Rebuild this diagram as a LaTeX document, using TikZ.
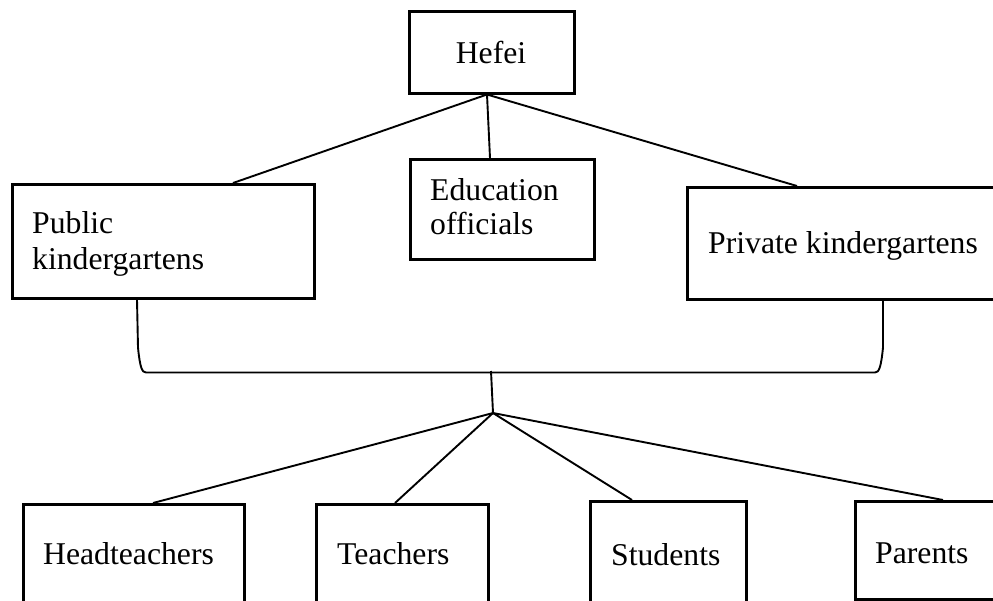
\documentclass[tikz,border=0pt]{standalone}
\usepackage{fontspec}
\setmainfont{Liberation Serif}
\usetikzlibrary{calc}
\begin{document}
\begin{tikzpicture}[x=1pt,y=-1pt,
  box/.style={draw, line width=2.5pt, inner sep=0pt, anchor=north west},
  link/.style={line width=1.9pt},
  lbl/.style={font=\fontsize{31.7}{36}\selectfont, anchor=base west, inner sep=0pt}]
\useasboundingbox (0,0) rectangle (993,600);
\clip (0,0) rectangle (993,600);

% boxes
\node[box, minimum width=165pt, minimum height=82pt]  (hefei) at (408,10) {};
\node[box, minimum width=302pt, minimum height=114pt] (pub)   at (11,183) {};
\node[box, minimum width=184pt, minimum height=100pt] (edu)   at (409,158) {};
\node[box, minimum width=330pt, minimum height=112pt] (priv)  at (686,186) {};
\node[box, minimum width=221pt, minimum height=120pt] (head)  at (22,503) {};
\node[box, minimum width=172pt, minimum height=120pt] (teach) at (315,503) {};
\node[box, minimum width=156pt, minimum height=120pt] (stud)  at (589,500) {};
\node[box, minimum width=160pt, minimum height=98pt]  (par)   at (854,500) {};

% labels
\node[lbl, anchor=base] (t0) at (491,63) {Hefei};
\node[lbl] (t1a) at (32,233) {Public};
\node[lbl] (t1b) at (32,269) {kindergartens};
\node[lbl] (t2a) at (430,200) {Education};
\node[lbl] (t2b) at (430,234) {officials};
\node[lbl] (t3)  at (708,253) {Private kindergartens};
\node[lbl] (t4)  at (43,564)  {Headteachers};
\node[lbl] (t5)  at (337,564) {Teachers};
\node[lbl] (t6)  at (611,565) {Students};
\node[lbl] (t7)  at (875,563) {Parents};

% upper tree
\coordinate (top) at ($(hefei.south west)+(79,0)$);
\draw[link] (top) -- ($(pub.north west)+(222,0)$);
\draw[link] (top) -- ($(edu.north west)+(81,0)$);
\draw[link] (top) -- ($(priv.north west)+(111,0)$);

% bracket joining the two kindergarten boxes
\coordinate (bl) at ($(pub.south west)+(126,0)$);
\coordinate (br) at ($(priv.south west)+(197,0)$);
\draw[link] (bl) -- ++(1,48) .. controls ++(2,20) and ++(-4,0) .. ++(8,25)
  -- ($(br)+(-8,72)$) .. controls ++(4,0) and ++(-2,20) .. ++(8,-25) -- (br);

% lower tree
\coordinate (mid) at (491,371);
\coordinate (hub) at (493,413);
\draw[link] (mid) -- (hub);
\draw[link] (hub) -- ($(head.north west)+(131,0)$);
\draw[link] (hub) -- ($(teach.north west)+(80,0)$);
\draw[link] (hub) -- ($(stud.north west)+(43,0)$);
\draw[link] (hub) -- ($(par.north west)+(89,0)$);
\end{tikzpicture}
\end{document}
